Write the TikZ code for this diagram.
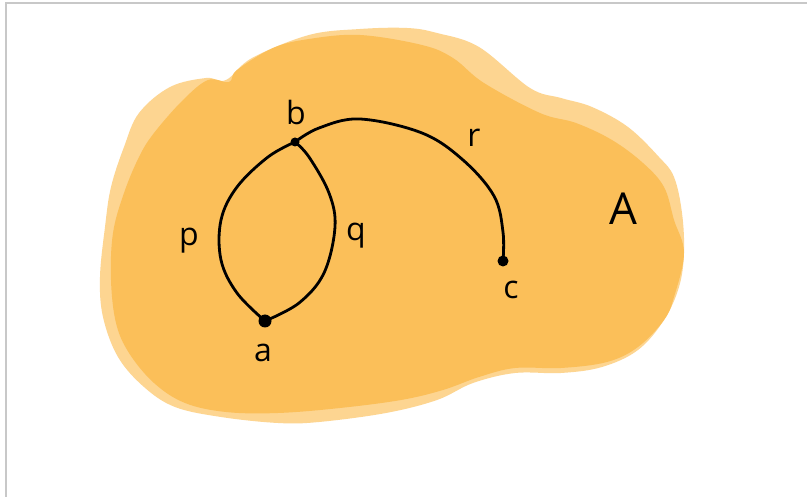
\documentclass[tikz,border=0pt]{standalone}
\usepackage{fontspec}
\setmainfont{Open Sans}
\definecolor{blobdark}{RGB}{251,191,89}
\definecolor{bloblight}{RGB}{253,213,145}
\definecolor{framegray}{RGB}{200,200,200}
\tikzset{
  curve/.style={line width=2.8pt, line cap=round, line join=round},
  lbl/.style={font=\fontsize{32}{32}\selectfont, inner sep=0pt},
  dot/.style={circle, fill=black, inner sep=0pt}
}
\begin{document}
\begin{tikzpicture}[x=1pt,y=-1pt]
\useasboundingbox (0,0) rectangle (807,497);
\fill[white] (0,0) rectangle (807,497);
\draw[framegray, line width=1.5pt] (6,497) -- (6,3) -- (807,3);
% light blob
\fill[bloblight] plot[smooth cycle, tension=0.6] coordinates {
 (170,87) (206,78) (226,80) (252,58) (309,35) (360,29) (407,28) (437,33)
 (479,47) (530,88) (561,98) (592,107) (628,127) (659,157) (674,177)
 (682,213) (684,253) (679,287) (664,320) (638,350) (602,367) (561,373)
 (515,373) (473,383) (437,400) (386,413) (319,422) (278,423) (221,417)
 (175,407) (144,387) (118,357) (103,317) (100,277) (105,227) (111,187)
 (124,147) (139,113)};
% dark blob
\fill[blobdark] plot[smooth cycle, tension=0.6] coordinates {
 (229,82) (237,70) (273,48) (309,39) (360,35) (422,45) (453,58) (484,83)
 (540,113) (576,123) (612,140) (643,163) (664,187) (674,220) (684,253)
 (674,297) (664,320) (638,347) (607,362) (561,368) (515,368) (479,377)
 (443,390) (401,400) (340,408) (278,413) (226,412) (185,403) (154,383)
 (129,353) (116,323) (111,280) (113,233) (124,193) (139,157) (154,133)
 (183,100) (208,80)};
% points
\coordinate (b) at (295,142);
\coordinate (a) at (265,321);
\coordinate (c) at (503,261);
% curves
\draw[curve] plot[smooth, tension=0.6] coordinates {(b) (268,157) (237,187) (221,220) (221,260) (237,293) (265,321)};
\draw[curve] plot[smooth, tension=0.6] coordinates {(b) (309,157) (329,193) (335,227) (324,273) (299,303) (265,321)};
\draw[curve] plot[smooth, tension=0.6] coordinates {(b) (319,128) (360,119) (422,133) (463,160) (494,196) (503,232) (503,261)};
\node[dot, minimum size=9pt] (bdot) at (b) {};
\node[dot, minimum size=13pt] (adot) at (a) {};
\node[dot, minimum size=11pt] (cdot) at (c) {};
% labels
\node[lbl] (lb) at (296,113) {b};
\node[lbl] (lp) at (189,241) {p};
\node[lbl] (lq) at (356,236) {q};
\node[lbl] (lr) at (474,138) {r};
\node[lbl] (lc) at (511,290) {c};
\node[lbl] (la) at (263,353) {a};
\node[lbl, font=\fontsize{44}{44}\selectfont] (lA) at (623,209) {A};
\end{tikzpicture}
\end{document}
